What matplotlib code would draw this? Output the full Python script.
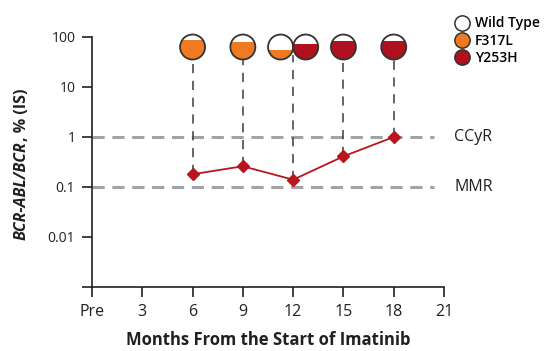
import matplotlib
matplotlib.use("Agg")
import matplotlib.pyplot as plt
from matplotlib.patches import Circle, Rectangle
from matplotlib.transforms import IdentityTransform
from matplotlib.lines import Line2D

plt.rcParams['font.family'] = ['Open Sans', 'DejaVu Sans']

# data
months = [6, 9, 12, 15, 18]
ratio = [0.18, 0.26, 0.14, 0.41, 1.0]

# mutation circles: month offset position, fraction filled, mutation
circ_month = [6, 9, 11.25, 12.75, 15, 18]
circ_frac = [0.78, 0.72, 0.37, 0.64, 0.74, 0.74]
circ_mut = ['F317L', 'F317L', 'F317L', 'Y253H', 'Y253H', 'Y253H']
circ_level = 63

xticks = [0, 3, 6, 9, 12, 15, 18, 21]
xticklabels = ['Pre', '3', '6', '9', '12', '15', '18', '21']
yticks = [0.001, 0.01, 0.1, 1, 10, 100]
yticklabels = ['', '0.01', '0.1', '1', '10', '100']

ref_levels = [1, 0.1]
ref_names = ['CCyR', 'MMR']

colors = {'Wild Type': 'white', 'F317L': '#F07A22', 'Y253H': '#B0111E'}
ink = '#231F20'

fig = plt.figure(figsize=(5.46, 3.51), dpi=100)
ax = fig.add_axes([92 / 546, 1 - 287 / 351, 352 / 546, 250 / 351])
ax.set_yscale('log')
ax.set_xlim(0, 21)
ax.set_ylim(0.001, 100)
ax.spines['top'].set_visible(False)
ax.spines['right'].set_visible(False)
for s in ('left', 'bottom'):
    ax.spines[s].set_linewidth(1.2)
    ax.spines[s].set_color(ink)
ax.set_xticks(xticks)
ax.set_xticklabels(xticklabels, fontsize=11.5, color=ink)
ax.set_yticks(yticks)
ax.set_yticklabels(yticklabels, fontsize=10, color=ink)
ax.minorticks_off()
ax.tick_params(length=7, width=1.2, color=ink, pad=5)
ax.set_xlabel('Months From the Start of Imatinib', fontsize=12, fontweight='bold',
              color=ink, labelpad=8)

for lev, name in zip(ref_levels, ref_names):
    ax.plot([0, 20.4], [lev, lev], color='#A3A3A5', lw=2.2, dashes=(4, 2.5), zorder=1,
            clip_on=False)
    ax.text(21.6, lev, name, fontsize=11.5, color=ink, va='center', ha='left')

for m, r in zip(months, ratio):
    ax.plot([m, m], [r, circ_level * 0.7], color='#3A3A3A', lw=1.1, dashes=(6, 5), zorder=2)

ax.plot(months, ratio, color='#B8151F', lw=1.3, marker='D', markersize=6.5,
        markerfacecolor='#B8151F', markeredgecolor='#B8151F', zorder=4)

fig.canvas.draw()
R = 12.5
for m, f, mut in zip(circ_month, circ_frac, circ_mut):
    cx, cy = ax.transData.transform((m, circ_level))
    base = Circle((cx, cy), R, transform=IdentityTransform(), facecolor='white',
                  edgecolor='none', zorder=5)
    fig.add_artist(base)
    fill = Rectangle((cx - R, cy - R), 2 * R, 2 * R * f, transform=IdentityTransform(),
                     facecolor=colors[mut], edgecolor='none', zorder=6)
    fig.add_artist(fill)
    fill.set_clip_path(base)
    edge = Circle((cx, cy), R, transform=IdentityTransform(), facecolor='none',
                  edgecolor='#333333', lw=1.3, zorder=7)
    fig.add_artist(edge)

# y label: italic part then plain part
x_lab = 22 / 546
t1 = fig.text(x_lab, 1 - 240 / 351, 'BCR-ABL/BCR', rotation=90, fontsize=11.5,
              fontweight='bold', fontstyle='italic', color=ink, ha='center', va='bottom')
fig.canvas.draw()
bb = t1.get_window_extent()
fig.text(x_lab, bb.y1 / fig.bbox.height, ', % (IS)', rotation=90, fontsize=11.5,
         fontweight='bold', color=ink, ha='center', va='bottom')

handles = [Line2D([], [], ls='none', marker='o', markersize=11, markerfacecolor=colors[k],
                  markeredgecolor='#333333', markeredgewidth=1.1) for k in colors]
fig.legend(handles, list(colors), loc='upper right', bbox_to_anchor=(552 / 546, 1 - 4 / 351),
           frameon=False, handletextpad=0.4, labelspacing=0.22,
           handlelength=1.0, prop={'weight': 'semibold', 'size': 10})

fig.savefig('out.png', dpi=100)
